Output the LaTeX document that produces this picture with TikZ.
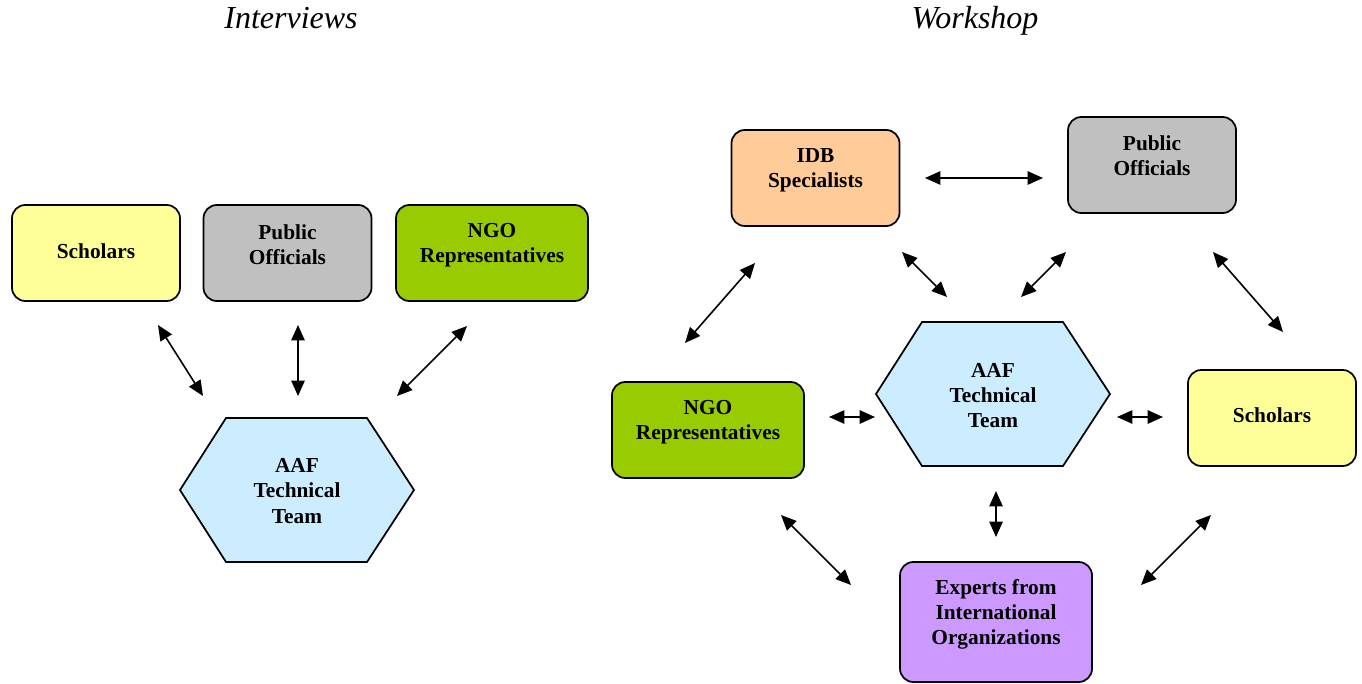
\documentclass[tikz,border=0pt]{standalone}
\usepackage{fontspec}
\setmainfont{Liberation Serif}
\usetikzlibrary{arrows.meta}
\definecolor{cyel}{HTML}{FFFF99}
\definecolor{cgry}{HTML}{C0C0C0}
\definecolor{cgrn}{HTML}{99CC00}
\definecolor{cblu}{HTML}{CCECFF}
\definecolor{cpch}{HTML}{FFCC99}
\definecolor{cpur}{HTML}{CC99FF}
\tikzset{
  box/.style={draw=black, line width=1.3pt, rounded corners=10pt, minimum width=126pt, minimum height=72pt, inner sep=0pt},
  wbox/.style={box, minimum width=144pt},
  lbl/.style={font=\bfseries\fontsize{16}{18.8}\selectfont, align=center, inner sep=0pt},
  ttl/.style={font=\itshape\fontsize{24}{28}\selectfont, inner sep=0pt, anchor=base},
  hexa/.style={draw=black, line width=1.3pt, fill=cblu},
  dbl/.style={line width=1.2pt, {Triangle[length=11.5pt,width=10pt]}-{Triangle[length=11.5pt,width=10pt]}}
}
\begin{document}
\begin{tikzpicture}[x=0.75pt,y=-0.75pt]
\useasboundingbox (0,0) rectangle (1362,684);
% titles
\node[ttl] (t1) at (291,29) {Interviews};
\node[ttl] (t2) at (975,29) {Workshop};
% ---------- left: interviews
\node[box, fill=cyel] (sL) at (96,253) {};
\node[lbl] (sLt) at (96,251) {Scholars};
\node[box, fill=cgry] (pL) at (287.5,253) {};
\node[lbl] (pLt) at (287.5,245) {Public\\Officials};
\node[wbox, fill=cgrn] (nL) at (492,253) {};
\node[lbl] (nLt) at (492,245) {NGO\\Representatives};
\draw[hexa] (180,490) -- (226,418) -- (367,418) -- (414,490) -- (367,562) -- (226,562) -- cycle;
\node[lbl] (aL) at (297,491) {AAF\\Technical\\Team};
\coordinate (l1a) at (158,325); \coordinate (l1b) at (203,396);
\coordinate (l2a) at (298,325); \coordinate (l2b) at (298,396);
\coordinate (l3a) at (467,326); \coordinate (l3b) at (397,396);
\draw[dbl] (l1a) -- (l1b);
\draw[dbl] (l2a) -- (l2b);
\draw[dbl] (l3a) -- (l3b);
% ---------- right: workshop
\node[box, fill=cpch] (iR) at (815.5,178) {};
\node[lbl] (iRt) at (815.5,170) {IDB\\Specialists};
\node[box, fill=cgry] (pR) at (1152,165) {};
\node[lbl] (pRt) at (1152,156) {Public\\Officials};
\node[wbox, fill=cgrn] (nR) at (708,430) {};
\node[lbl] (nRt) at (708,422) {NGO\\Representatives};
\node[box, fill=cyel] (sR) at (1272,418) {};
\node[lbl] (sRt) at (1272,415) {Scholars};
\node[wbox, fill=cpur, minimum height=90pt] (eR) at (996,622) {};
\node[lbl] (eRt) at (996,614.5) {Experts from\\International\\Organizations};
\draw[hexa] (876,394) -- (922,322) -- (1063,322) -- (1110,394) -- (1063,466) -- (922,466) -- cycle;
\node[lbl] (aR) at (993,395.5) {AAF\\Technical\\Team};
\coordinate (r1a) at (925,178);  \coordinate (r1b) at (1043,178);
\coordinate (r2a) at (755,263);  \coordinate (r2b) at (685,343);
\coordinate (r3a) at (902,252);  \coordinate (r3b) at (947,297);
\coordinate (r4a) at (1066,252); \coordinate (r4b) at (1021,297);
\coordinate (r5a) at (1213,252); \coordinate (r5b) at (1283,332);
\coordinate (r6a) at (829,417);  \coordinate (r6b) at (875,417);
\coordinate (r7a) at (1117,417); \coordinate (r7b) at (1163,417);
\coordinate (r8a) at (996,491);  \coordinate (r8b) at (996,537);
\coordinate (r9a) at (781,515);  \coordinate (r9b) at (851,585);
\coordinate (r10a) at (1211,515); \coordinate (r10b) at (1141,585);
\foreach \k in {1,...,10} { \draw[dbl] (r\k a) -- (r\k b); }
\end{tikzpicture}
\end{document}
